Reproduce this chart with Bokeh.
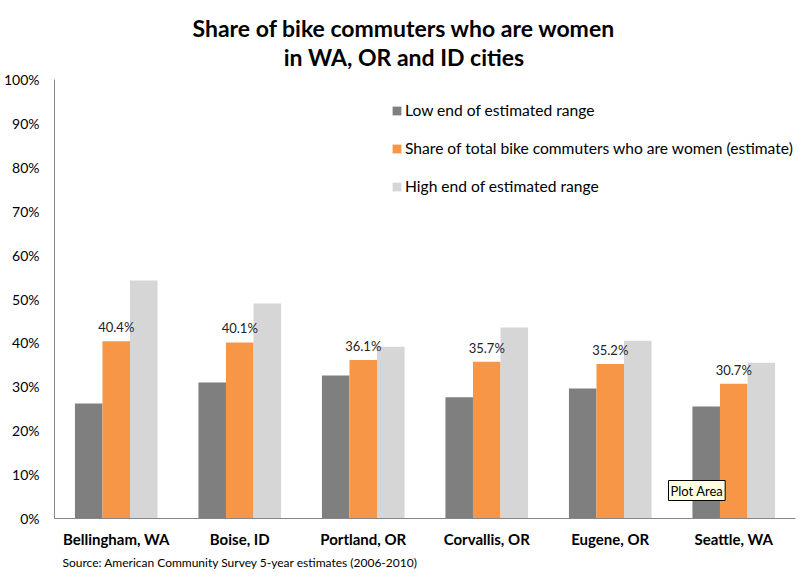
from bokeh.plotting import figure
from bokeh.models import (ColumnDataSource, Range1d, FactorRange, Legend, LegendItem,
                          Label, Title, FixedTicker, PrintfTickFormatter)
from bokeh.transform import dodge
from bokeh.embed import file_html
from bokeh.resources import INLINE
from bokeh.core.properties import value

cities = ["Bellingham, WA", "Boise, ID", "Portland, OR", "Corvallis, OR", "Eugene, OR", "Seattle, WA"]
low_end = [26.2, 31.0, 32.6, 27.6, 29.6, 25.5]
share_women = [40.4, 40.1, 36.1, 35.7, 35.2, 30.7]
high_end = [54.2, 49.0, 39.1, 43.5, 40.5, 35.5]
share_labels = ["40.4%", "40.1%", "36.1%", "35.7%", "35.2%", "30.7%"]
y_ticks = [0, 10, 20, 30, 40, 50, 60, 70, 80, 90, 100]

title_lines = ["Share of bike commuters who are women", "in WA, OR and ID cities"]
series_names = ["Low end of estimated range",
                "Share of total bike commuters who are women (estimate)",
                "High end of estimated range"]
source_note = "Source: American Community Survey  5-year estimates (2006-2010)"

FONT = "Lato"

# the frame extends above the 100% line so that the two title lines fit inside it;
# the axis itself is bounded to 0..100
FRAME_H = 509
PX_PER_100 = 439
y_top = 100 * FRAME_H / PX_PER_100

src = ColumnDataSource(dict(city=cities, low=low_end, share=share_women, high=high_end,
                            lab=share_labels))

p = figure(x_range=FactorRange(factors=cities), y_range=Range1d(0, y_top),
           frame_width=741, frame_height=FRAME_H,
           min_border_left=54, min_border_right=5, min_border_top=9, min_border_bottom=59,
           output_backend="svg", toolbar_location=None, background_fill_color="white",
           border_fill_color="white")
p.outline_line_color = None
p.grid.visible = False

bw = 0.223
r_low = p.vbar(x=dodge("city", -bw, range=p.x_range), top="low", width=bw, source=src,
               fill_color="#7f7f7f", line_color=None)
r_share = p.vbar(x=dodge("city", 0, range=p.x_range), top="share", width=bw, source=src,
                 fill_color="#f79646", line_color=None)
r_high = p.vbar(x=dodge("city", bw, range=p.x_range), top="high", width=bw, source=src,
                fill_color="#d6d6d6", line_color=None)

p.text(x=dodge("city", 0, range=p.x_range), y="share", text="lab", source=src,
       text_align="center", text_baseline="bottom", y_offset=-6,
       text_font=value(FONT), text_font_size="13px", text_color="#222222")

# axes
p.yaxis.ticker = FixedTicker(ticks=y_ticks)
p.yaxis.formatter = PrintfTickFormatter(format="%d%%")
p.yaxis.bounds = (0, 100)
for ax in (p.xaxis[0], p.yaxis[0]):
    ax.axis_line_color = "#868686"
    ax.axis_line_width = 1
    ax.major_tick_line_color = None
    ax.minor_tick_line_color = None
    ax.major_tick_out = 0
    ax.major_tick_in = 0
    ax.major_label_text_font = FONT
    ax.major_label_text_color = "#000000"
p.yaxis.major_label_text_font_size = "14px"
p.yaxis.major_label_standoff = 15
p.xaxis.major_label_text_font_size = "15px"
p.xaxis.major_label_text_font_style = "bold"
p.xaxis.major_label_standoff = 11

legend = Legend(items=[LegendItem(label=series_names[0], renderers=[r_low]),
                       LegendItem(label=series_names[1], renderers=[r_share]),
                       LegendItem(label=series_names[2], renderers=[r_high])],
                location=(337, 323), orientation="vertical",
                border_line_color=None, background_fill_alpha=0,
                label_text_font=FONT, label_text_font_size="15.6px", label_text_color="#000000",
                glyph_width=11, glyph_height=11, label_standoff=3,
                spacing=20, padding=0, margin=0)
p.add_layout(legend)

for t, yy in zip(title_lines, [491, 462]):
    p.add_layout(Label(x=349.5, y=yy, x_units="screen", y_units="screen", text=t,
                       text_align="center", text_baseline="middle",
                       text_font=FONT, text_font_size="23px", text_font_style="bold",
                       text_color="#000000"))

p.add_layout(Title(text=source_note, align="left", offset=8, standoff=4,
                   text_font=FONT, text_font_size="12px", text_font_style="normal",
                   text_color="#000000"), "below")

p.add_layout(Label(x=614, y=28, x_units="screen", y_units="screen", text="Plot Area",
                   text_align="left", text_baseline="middle",
                   text_font=FONT, text_font_size="13px", text_color="#000000",
                   background_fill_color="#ffffe1", border_line_color="#000000",
                   border_line_width=1, padding=2))

open("out.html", "w").write(file_html(p, INLINE))
